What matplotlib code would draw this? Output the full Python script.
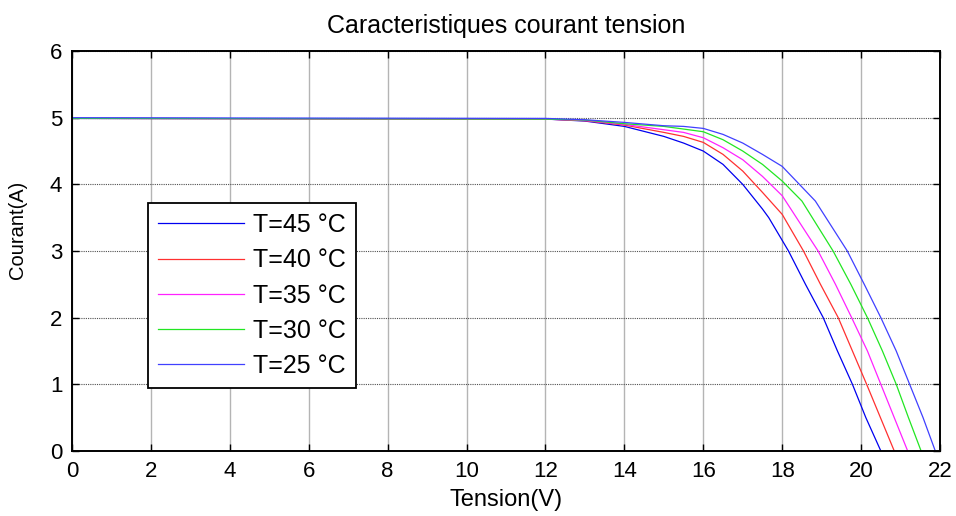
import matplotlib
matplotlib.use("Agg")
import matplotlib.pyplot as plt

plt.rcParams['font.family'] = ['Liberation Sans', 'DejaVu Sans']

# ---- data ----
labels = ["T=45 °C", "T=40 °C", "T=35 °C", "T=30 °C", "T=25 °C"]
colors = ["#0000f0", "#ff3030", "#ff22ff", "#22e622", "#4040ff"]

V45 = [0, 12, 13, 14, 15, 15.5, 16, 16.5, 17, 17.5, 17.66, 18.16, 18.59, 19.04, 19.40, 19.78, 20.12, 20.50]
I45 = [4.99, 4.98, 4.95, 4.87, 4.72, 4.62, 4.50, 4.30, 4.0, 3.63, 3.5, 3.0, 2.5, 2.0, 1.5, 1.0, 0.5, 0.0]

V40 = [0, 12, 13, 14, 15, 15.5, 16, 16.5, 17, 17.5, 18, 18.54, 18.97, 19.42, 19.78, 20.14, 20.49, 20.84]
I40 = [4.99, 4.98, 4.955, 4.89, 4.78, 4.72, 4.63, 4.45, 4.20, 3.88, 3.55, 3.0, 2.5, 2.0, 1.5, 1.0, 0.5, 0.0]

V35 = [0, 12, 13, 14, 15, 15.5, 16, 16.5, 17, 17.5, 18, 18.91, 19.35, 19.76, 20.16, 20.50, 20.84, 21.18]
I35 = [4.99, 4.98, 4.96, 4.90, 4.82, 4.78, 4.70, 4.55, 4.37, 4.12, 3.83, 3.0, 2.5, 2.0, 1.5, 1.0, 0.5, 0.0]

V30 = [0, 12, 13, 14, 15, 15.5, 16, 16.5, 17, 17.5, 18, 18.5, 19.29, 19.74, 20.16, 20.54, 20.89, 21.2, 21.52]
I30 = [4.99, 4.98, 4.965, 4.91, 4.87, 4.83, 4.79, 4.67, 4.50, 4.30, 4.05, 3.75, 3.0, 2.5, 2.0, 1.5, 1.0, 0.5, 0.0]

V25 = [0, 12, 13, 14, 15, 15.5, 16, 16.5, 17, 17.5, 18, 18.84, 19.65, 20.08, 20.50, 20.89, 21.23, 21.57, 21.88]
I25 = [5.0, 4.99, 4.97, 4.93, 4.88, 4.87, 4.84, 4.75, 4.62, 4.45, 4.27, 3.75, 3.0, 2.5, 2.0, 1.5, 1.0, 0.5, 0.0]

xticks = list(range(0, 23, 2))
yticks = list(range(0, 7))

title = "Caracteristiques courant tension"
xlabel = "Tension(V)"
ylabel = "Courant(A)"

# ---- figure ----
fig = plt.figure(figsize=(9.56, 5.16), dpi=100)
ax = fig.add_axes([0.0753, 0.126, 0.9080, 0.775])

series = [(V45, I45), (V40, I40), (V35, I35), (V30, I30), (V25, I25)]
for (v, i), lab, col in zip(series, labels, colors):
    ax.plot(v, i, color=col, lw=0.9, label=lab)

ax.set_xlim(0, 22)
ax.set_ylim(0, 6)
ax.set_xticks(xticks)
ax.set_yticks(yticks)

ax.xaxis.grid(True, color="#b4b4b4", lw=1.0, ls="-")
ax.yaxis.grid(True, color="#505050", lw=0.8, ls=(0, (1, 1)))
ax.set_axisbelow(True)

ax.tick_params(direction="in", length=5, width=1.0, top=True, right=True,
               labelsize=16, pad=7)
for s in ax.spines.values():
    s.set_linewidth(1.4)
    s.set_color("black")

ax.set_title(title, fontsize=18, pad=13)
ax.set_xlabel(xlabel, fontsize=17, labelpad=5)
ax.set_ylabel(ylabel, fontsize=14.5)
ax.yaxis.set_label_coords(-0.052, 0.5525)

leg = ax.legend(loc="upper left", bbox_to_anchor=(0.0876, 0.62), borderaxespad=0,
                fontsize=18, handlelength=3.45, handletextpad=0.35, labelspacing=0.45,
                borderpad=0.4, fancybox=False, framealpha=1, edgecolor="black")
leg.get_frame().set_linewidth(1.3)

fig.savefig("out.png", dpi=100)
